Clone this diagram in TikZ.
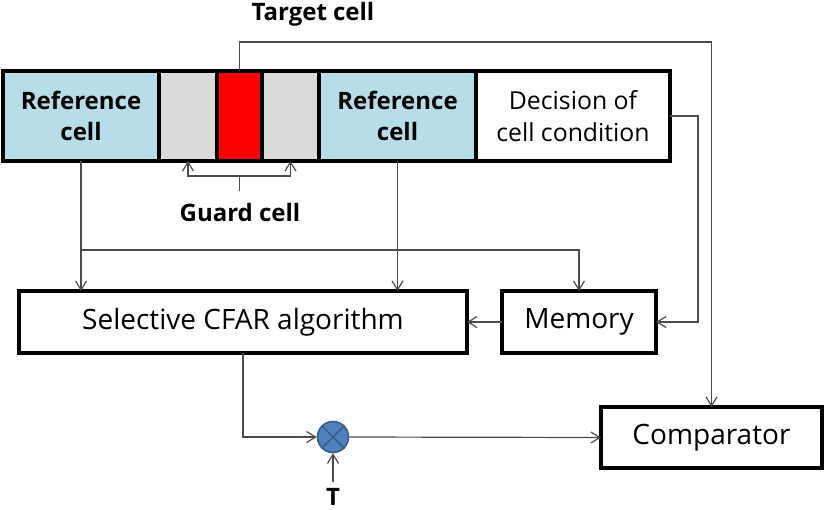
\documentclass[tikz,border=0pt]{standalone}
\usepackage{fontspec}
\setmainfont{Open Sans}
\usepackage{tikz}
\usetikzlibrary{arrows.meta}
\usetikzlibrary{positioning}
\definecolor{refblue}{HTML}{B7DEE8}
\definecolor{guardgray}{HTML}{D9D9D9}
\definecolor{mixblue}{HTML}{4F81BD}
\definecolor{mixedge}{HTML}{385D8A}
\tikzset{
    cell/.style={draw, line width=1.6pt, outer sep=0pt, minimum height=45pt, inner sep=0pt, align=center},
    block/.style={draw, line width=1.6pt, outer sep=0pt, minimum height=31pt, inner sep=0pt, font=\fontsize{14}{16}\selectfont},
    link/.style={draw=black!70, line width=0.6pt},
    lbl/.style={font=\fontsize{12}{14}\selectfont\bfseries, inner sep=0pt},
}

\begin{document}
\begin{tikzpicture}[x=0.5pt, y=-0.5pt, >={Straight Barb[length=4.5pt, width=5.5pt]}]

            \useasboundingbox (0,0) rectangle (827,510);

            % Window of cells
            \node[cell, fill=refblue, minimum width=78pt, font=\fontsize{12}{15.5}\selectfont\bfseries] (ref1) at (81,116) {Reference\\cell};
            \node[cell, fill=guardgray, minimum width=29pt, right=0pt of ref1] (guardL) {};
            \node[cell, fill=red, minimum width=22.5pt, right=0pt of guardL] (target) {};
            \node[cell, fill=guardgray, minimum width=28.5pt, right=0pt of target] (guardR) {};
            \node[cell, fill=refblue, minimum width=78.5pt, right=0pt of guardR, font=\fontsize{12}{15.5}\selectfont\bfseries] (ref2) {Reference\\cell};
            \node[cell, fill=white, minimum width=97pt, right=0pt of ref2, font=\fontsize{12.4}{16}\selectfont] (decision) {Decision of\\cell condition};

            % Labels
            \node[lbl] (targetlbl) at (313,14) {Target cell};
            \node[lbl] (guardlbl) at (240,212) {Guard cell};

            % Processing blocks
            \node[block, minimum width=224pt] (cfar) at (243,322) {Selective CFAR algorithm};
            \node[block, minimum width=77pt] (memory) at (579,322) {Memory};
            \node[block, minimum width=110.5pt, minimum height=30.5pt] (comp) at (711.5,437.5) {Comparator};

            % Multiplier
            \node[circle, draw=mixedge, fill=mixblue, line width=0.8pt, minimum size=15.5pt, inner sep=0pt] (mixer) at (333,437) {};
            \draw[mixedge, line width=0.8pt] (mixer.north east) -- (mixer.south west);
            \draw[mixedge, line width=0.8pt] (mixer.north west) -- (mixer.south east);
            \node[font=\fontsize{12}{14}\selectfont\bfseries, inner sep=0pt] (thr) at (333,497) {T};

            % Guard cell bracket
            \draw[link, <->] (guardL.south) -- ++(0,15) -| (guardR.south);
            \draw[link] (target.south) ++(0,15) -- ++(0,15);

            % Relationships
            \coordinate (tap) at (81,250);
            \draw[link, ->] (target.north) -- ++(0,-29) -| (comp.north);
            \draw[link, ->] (decision.east) -- ++(28,0) |- (memory.east);
            \draw[link, ->] (ref1.south) -- (ref1.south |- cfar.north);
            \draw[link, ->] (ref2.south) -- (ref2.south |- cfar.north);
            \draw[link, ->] (tap) -| (memory.north);
            \draw[link, ->] (memory.west) -- (cfar.east);
            \draw[link, ->] (cfar.south) |- (mixer.west);
            \draw[link, ->] (mixer.east) -- (comp.west);
            \draw[link, ->] (thr.north) ++(0,-6) -- (mixer.south);

        \end{tikzpicture}
\end{document}
